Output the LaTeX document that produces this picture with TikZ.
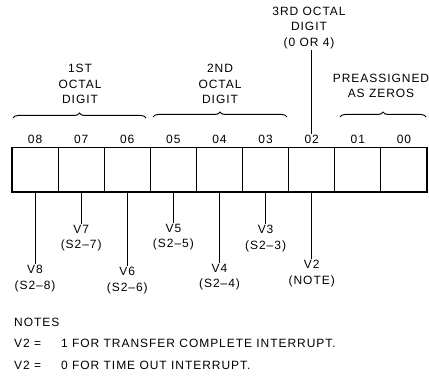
\documentclass[tikz,border=0pt]{standalone}
\usepackage{fontspec}
\setmainfont{Liberation Sans}[LetterSpace=8]
\usetikzlibrary{decorations.pathreplacing}
\begin{document}
\begin{tikzpicture}[x=1pt,y=-1pt,
  txt/.style={font=\fontsize{12}{15.5}\selectfont, inner sep=1pt, align=center},
  cell/.style={draw, line width=1pt, minimum width=46.11pt, minimum height=44pt, inner sep=0pt},
  lead/.style={line width=0.9pt},
  brc/.style={line width=1pt, decorate, decoration={brace, amplitude=5pt}}]
\useasboundingbox (0,0) rectangle (429,379);
% register cells
\foreach \b in {8,...,0}{
  \node[cell] (c\b) at ({12+46.11*(8-\b)+23.06},170) {};
  \node[txt] (b\b) at ({12+46.11*(8-\b)+23.06},139) {0\b};
}
\draw[line width=1.8pt] (c8.north west) rectangle (c0.south east);
% headers
\node[txt] (t1) at (80,84) {1ST\\OCTAL\\DIGIT};
\node[txt] (t2) at (220,84) {2ND\\OCTAL\\DIGIT};
\node[txt] (t3) at (309,28) {3RD OCTAL\\DIGIT\\(0 OR 4)};
\node[txt] (t4) at (381,86) {PREASSIGNED\\AS ZEROS};
% braces
\draw[brc] (13,118) -- (146,118);
\draw[brc] (153,117) -- (287,117);
\draw[brc] (340,117) -- (426,117);
\draw[lead] (b2.north) -- (b2.north |- t3.south);
% field labels
\node[txt, anchor=north] (v8) at (c8.south |- 0,264) {V8\\(S2--8)};
\node[txt, anchor=north] (v7) at (c7.south |- 0,224) {V7\\(S2--7)};
\node[txt, anchor=north] (v6) at (c6.south |- 0,266) {V6\\(S2--6)};
\node[txt, anchor=north] (v5) at (c5.south |- 0,223) {V5\\(S2--5)};
\node[txt, anchor=north] (v4) at (c4.south |- 0,263) {V4\\(S2--4)};
\node[txt, anchor=north] (v3) at (c3.south |- 0,224) {V3\\(S2--3)};
\node[txt, anchor=north] (v2) at (c2.south |- 0,259) {V2\\(NOTE)};
\foreach \b in {8,...,2}{
  \draw[lead] (c\b.south) -- (v\b.north);
}
% notes
\node[txt, anchor=west] (n0) at (13,322) {NOTES};
\node[txt, anchor=west] (n1) at (13,343) {V2 =};
\node[txt, anchor=west] (n2) at (60,343) {1 FOR TRANSFER COMPLETE INTERRUPT.};
\node[txt, anchor=west] (n3) at (13,365) {V2 =};
\node[txt, anchor=west] (n4) at (60,365) {0 FOR TIME OUT INTERRUPT.};
\end{tikzpicture}
\end{document}
